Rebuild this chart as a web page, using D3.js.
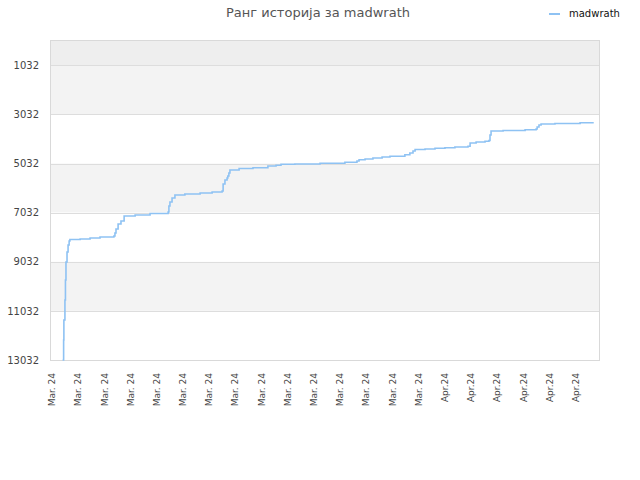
<!DOCTYPE html>
<html><head><meta charset="utf-8">
<script src="https://cdn.jsdelivr.net/npm/d3@7"></script>
<style>body{margin:0;background:#fff}svg{display:block}</style>
</head><body>
<script>
const titleText = "Ранг историја за madwrath";
const seriesName = "madwrath";
const xTickLabels = ["Mar. 24","Mar. 24","Mar. 24","Mar. 24","Mar. 24","Mar. 24","Mar. 24","Mar. 24","Mar. 24","Mar. 24","Mar. 24","Mar. 24","Mar. 24","Mar. 24","Mar. 24","Apr.24","Apr.24","Apr.24","Apr.24","Apr.24","Apr.24"];
const yTicks = [1032, 3032, 5032, 7032, 9032, 11032, 13032];
// day position (in tick units) and rank
const days = [0.48,0.52,0.53,0.57,0.59,0.61,0.65,0.69,0.73,0.76,1.15,1.53,1.91,2.44,2.48,2.52,2.60,2.71,2.83,3.25,3.82,4.51,4.54,4.58,4.66,4.77,5.15,5.73,6.19,6.57,6.61,6.68,6.76,6.79,6.83,6.87,7.22,7.75,8.32,8.63,8.82,9.35,10.31,11.26,11.72,11.80,12.03,12.33,12.68,12.98,13.55,13.74,13.86,13.94,14.32,14.70,15.08,15.46,15.96,16.04,16.27,16.61,16.76,16.80,16.84,17.30,18.14,18.56,18.60,18.67,18.75,19.28,20.24,20.73];
const ranks = [13032,12217,11403,10588,9774,9041,8634,8349,8186,8125,8104,8064,8023,7982,7860,7697,7493,7371,7168,7127,7066,7005,6761,6598,6435,6313,6272,6231,6191,6150,5865,5702,5621,5539,5417,5295,5234,5201,5132,5103,5063,5050,5018,4981,4928,4875,4847,4806,4765,4737,4671,4602,4521,4460,4440,4411,4387,4358,4330,4195,4155,4126,4093,3869,3706,3686,3658,3625,3544,3462,3421,3401,3368,3340];

const W = 640, H = 480;
const m = {left: 50, right: 600, top: 40, bottom: 360};
const svg = d3.select("body").append("svg").attr("width", W).attr("height", H);
const font = "DejaVu Sans";

const x = d3.scaleLinear().domain([0, 21]).range([m.left, m.right]);
const y = d3.scaleLinear().domain([1, 13032]).range([m.top, m.bottom]);

// bands
const bandEdges = [1].concat(yTicks);
const bandColors = ["#eeeeee", "#f3f3f3", "#ffffff", "#f3f3f3", "#ffffff", "#f3f3f3", "#ffffff"];
svg.append("g").selectAll("rect").data(d3.range(bandEdges.length - 1)).join("rect")
  .attr("x", m.left).attr("width", m.right - m.left)
  .attr("y", i => y(bandEdges[i])).attr("height", i => y(bandEdges[i+1]) - y(bandEdges[i]))
  .attr("fill", i => bandColors[i]);

// grid lines
svg.append("g").selectAll("line").data(yTicks).join("line")
  .attr("x1", m.left).attr("x2", m.right)
  .attr("y1", d => Math.round(y(d)) + 0.5).attr("y2", d => Math.round(y(d)) + 0.5)
  .attr("stroke", "#dddddd").attr("stroke-width", 1);

// border
svg.append("rect").attr("x", m.left + 0.5).attr("y", m.top + 0.5)
  .attr("width", m.right - m.left - 1).attr("height", m.bottom - m.top)
  .attr("fill", "none").attr("stroke", "#d9d9d9");

// y axis labels
const yAxis = d3.axisLeft(y).tickValues(yTicks).tickSize(0).tickPadding(11).tickFormat(d3.format("d"));
const gy = svg.append("g").attr("transform", `translate(${m.left},0)`).call(yAxis);
gy.select(".domain").remove();
gy.selectAll("text").attr("font-family", font).attr("font-size", 10).attr("fill", "#444");

// x axis labels
const xAxis = d3.axisBottom(x).tickValues(d3.range(xTickLabels.length)).tickSize(0).tickFormat(i => xTickLabels[i]);
const gx = svg.append("g").attr("transform", `translate(0,${m.bottom})`).call(xAxis);
gx.select(".domain").remove();
gx.selectAll("text")
  .attr("font-family", font).attr("font-size", 9).attr("fill", "#444")
  .attr("text-anchor", "end").attr("dy", "0.35em").attr("y", 0)
  .attr("transform", "translate(1.5,13) rotate(-90)");

// line
const pts = days.map((d, i) => [d, ranks[i]]);
svg.append("path").datum(pts)
  .attr("d", d3.line().x(d => x(d[0])).y(d => y(d[1])).curve(d3.curveStepAfter))
  .attr("fill", "none").attr("stroke", "#8ec2f3").attr("stroke-width", 1.6);

// title
svg.append("text").attr("x", 318).attr("y", 17).attr("text-anchor", "middle")
  .attr("font-family", font).attr("font-size", 13).attr("fill", "#555").text(titleText);

// legend
svg.append("line").attr("x1", 549).attr("x2", 560).attr("y1", 14).attr("y2", 14)
  .attr("stroke", "#8ec2f3").attr("stroke-width", 2);
svg.append("text").attr("x", 569).attr("y", 17)
  .attr("font-family", font).attr("font-size", 10).attr("fill", "#111").text(seriesName);
</script>
</body></html>
